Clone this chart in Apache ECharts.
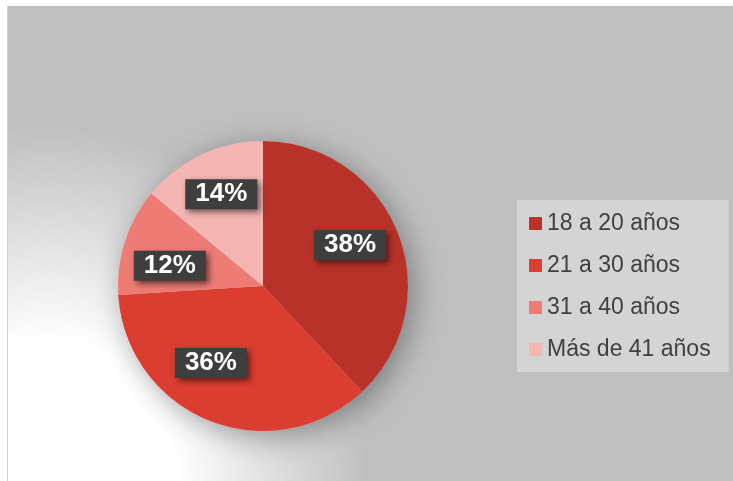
<!DOCTYPE html>
<html>
<head>
<meta charset="utf-8">
<script src="https://cdn.jsdelivr.net/npm/echarts@6/dist/echarts.min.js"></script>
<style>
  html, body { margin: 0; padding: 0; background: #fff; }
  #bg {
    position: absolute; left: 7px; top: 6px; width: 726px; height: 475px;
    border-left: 1px solid #d2d2d2; box-sizing: border-box;
    background: radial-gradient(ellipse 320px 360px at 40px 478px, #ffffff 0%, #ffffff 40%, #bfbfbf 100%), #bfbfbf;
  }
  #chart { position: absolute; left: 0; top: 0; width: 733px; height: 481px; }
</style>
</head>
<body>
<div id="bg"></div>
<div id="chart"></div>
<script>
// Age groups
const categories = ["18 a 20 años", "21 a 30 años", "31 a 40 años", "Más de 41 años"];
// Share of respondents (%)
const values = [38, 36, 12, 14];
// Slice colours
const colors = ["#B83229", "#DC3D31", "#EF7B75", "#F4B5B3"];
// small nudges so the label boxes sit where the original put them
const labelNudge = [[-4, -5], [-16, -14], [0, 10], [0, -3]];

let chart = echarts.init(document.getElementById("chart"), null, { renderer: "canvas" });

const pieData = categories.map((name, i) => ({ name: name, value: values[i] }));
const labelData = categories.map((name, i) => ({
  name: name,
  value: values[i],
  label: { offset: labelNudge[i] }
}));

let option = {
  backgroundColor: "transparent",
  animation: false,
  color: colors,
  legend: {
    orient: "vertical",
    left: 517,
    top: 200,
    data: categories,
    icon: "rect",
    itemWidth: 13,
    itemHeight: 13,
    itemGap: 19,
    padding: [12, 18, 11, 12],
    backgroundColor: "#D4D4D4",
    selectedMode: false,
    textStyle: {
      fontFamily: "Liberation Sans, Arial, sans-serif",
      fontSize: 23,
      lineHeight: 23,
      color: "#404040"
    }
  },
  series: [
    // soft shadow under the pie
    {
      type: "pie",
      center: [263, 286],
      radius: 145,
      silent: true,
      label: { show: false },
      data: [{ name: "sombra", value: 1 }],
      itemStyle: {
        color: "#bfbfbf",
        shadowBlur: 30,
        shadowColor: "rgba(0,0,0,0.35)",
        shadowOffsetX: 6,
        shadowOffsetY: 6
      }
    },
    // the slices
    {
      type: "pie",
      center: [263, 286],
      radius: 145,
      startAngle: 90,
      clockwise: true,
      silent: true,
      label: { show: false },
      labelLine: { show: false },
      data: pieData,
      itemStyle: { borderWidth: 0 }
    },
    // labels only
    {
      type: "pie",
      center: [263, 286],
      radius: [45, 145],
      startAngle: 90,
      clockwise: true,
      silent: true,
      data: labelData,
      itemStyle: { color: "rgba(0,0,0,0)" },
      labelLine: { show: false },
      label: {
        show: true,
        position: "inside",
        formatter: "{c}%",
        fontFamily: "Liberation Sans, Arial, sans-serif",
        fontWeight: "bold",
        fontSize: 26,
        lineHeight: 26,
        color: "#ffffff",
        backgroundColor: "#3E3E3E",
        padding: [2, 10, 2, 10],
        shadowBlur: 6,
        shadowOffsetX: 3,
        shadowOffsetY: 3,
        shadowColor: "rgba(0,0,0,0.55)"
      }
    }
  ]
};

chart.setOption(option);
</script>
</body>
</html>
